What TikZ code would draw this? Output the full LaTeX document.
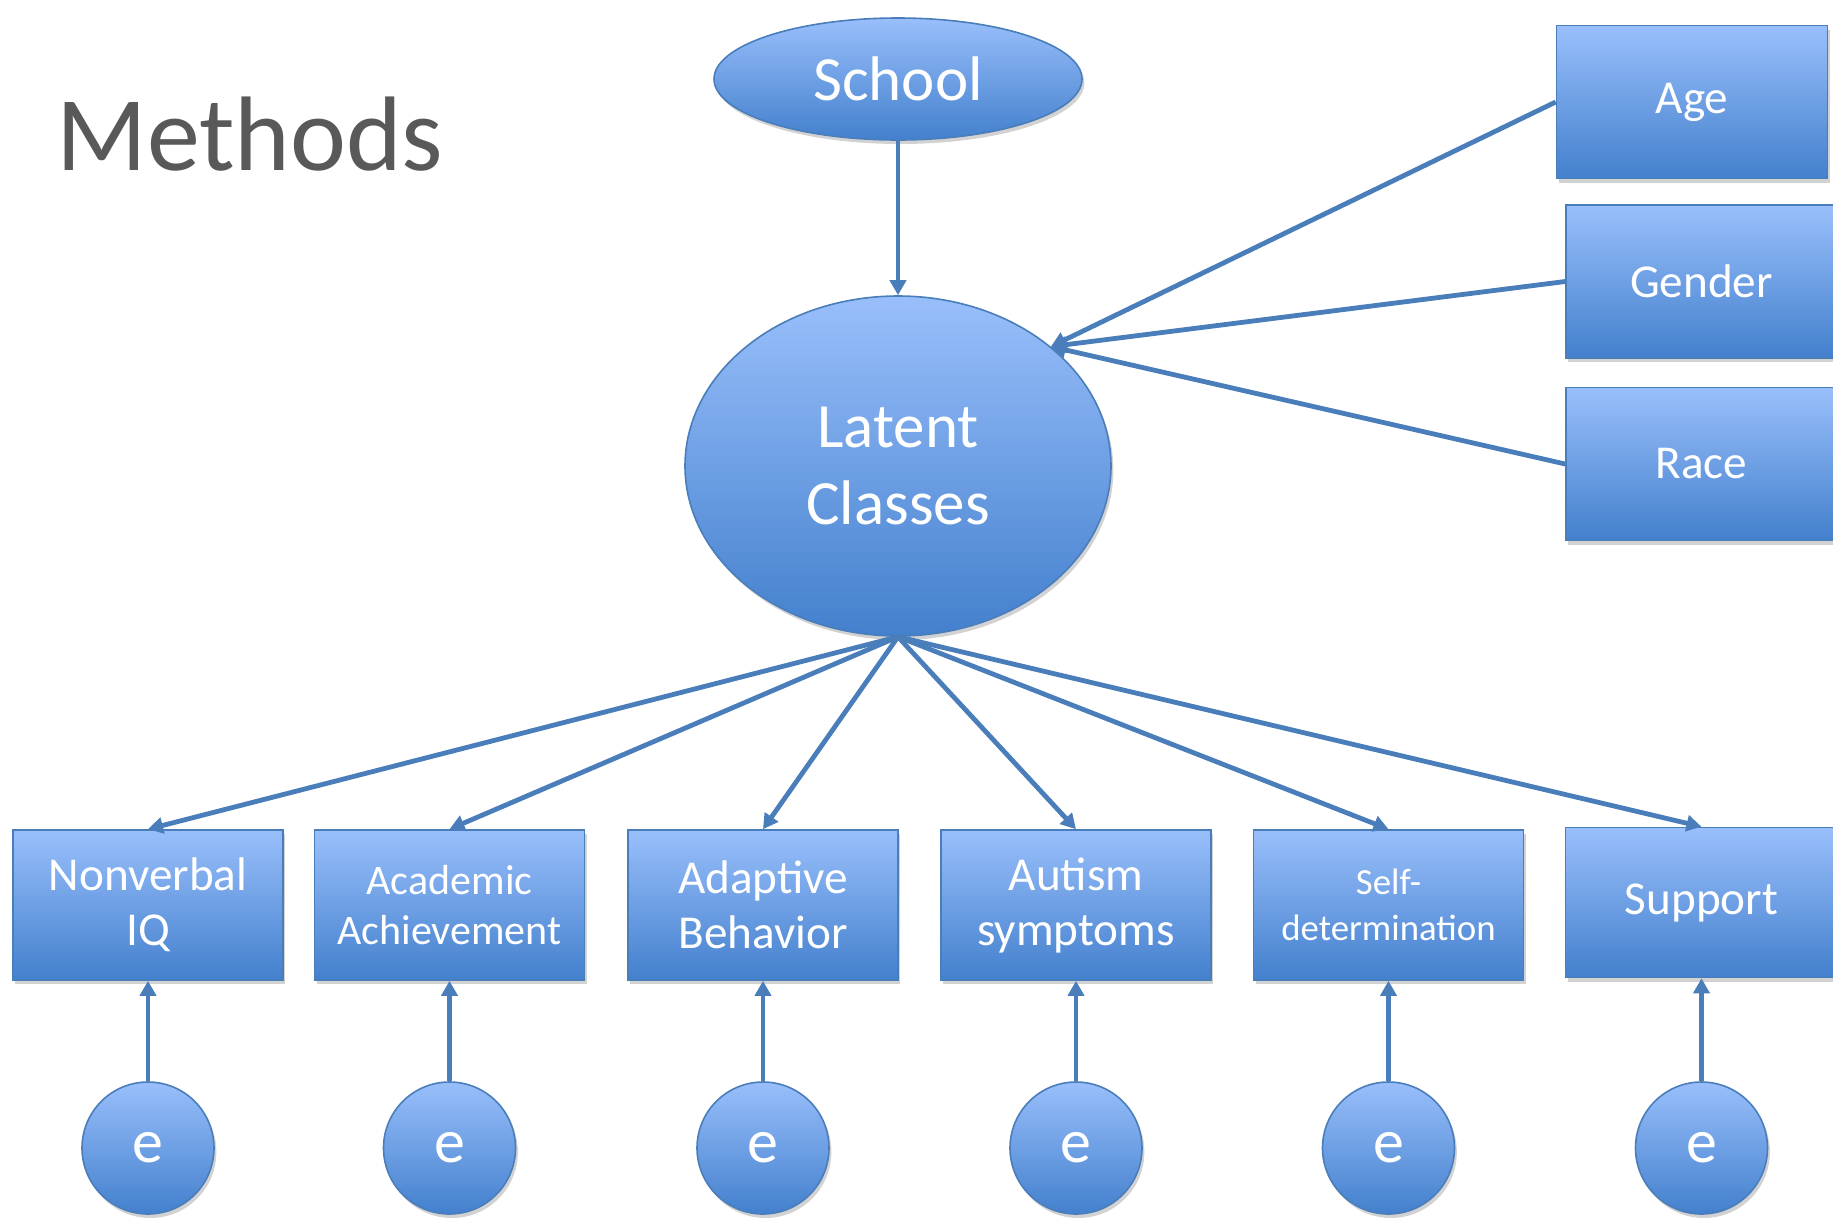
\documentclass[tikz,border=0pt]{standalone}
\usepackage{fontspec}
\setmainfont{Carlito}
\usetikzlibrary{arrows.meta,shapes.geometric,shadows}
\definecolor{topc}{HTML}{99BFFB}
\definecolor{botc}{HTML}{4380CD}
\definecolor{edgec}{HTML}{4A7EBB}
\definecolor{arrc}{HTML}{4A7EBB}
\definecolor{titlec}{HTML}{595959}
\begin{document}
\begin{tikzpicture}[x=0.5pt,y=-0.5pt,
  fillshape/.style={top color=topc,bottom color=botc,draw=edgec,line width=0.8pt,
    text=white,align=center,inner sep=0pt,
    drop shadow={opacity=0.25,shadow xshift=1.2pt,shadow yshift=-2pt,fill=black!70}},
  boxnode/.style={fillshape,rectangle,minimum width=135pt,minimum height=75pt,
    font=\fontsize{23.6}{27.5}\selectfont},
  sidebox/.style={fillshape,rectangle,minimum width=135.5pt,minimum height=76.5pt,
    font=\fontsize{23.6}{27.5}\selectfont},
  errnode/.style={fillshape,circle,minimum size=66pt,font=\fontsize{31}{36}\selectfont},
  conn/.style={draw=arrc,line width=2.4pt,-{Triangle[length=7.5pt,width=8pt]}}
]
\useasboundingbox (0,0) rectangle (1833,1217);
\clip (0,0) rectangle (1833,1217);

\node[anchor=base west,text=titlec,font=\fontsize{53}{60}\selectfont,inner sep=0pt] (title) at (56,170) {Methods};

\node[fillshape,ellipse,minimum width=184pt,minimum height=61pt,font=\fontsize{31.5}{37}\selectfont] (school) at (898,79) {School};
\node[fillshape,ellipse,minimum width=213pt,minimum height=170pt,font=\fontsize{31.5}{38.5}\selectfont] (latent) at (898,466) {Latent\\Classes};

\node[sidebox] (age) at (1692,102) {\raisebox{-2pt}{Age}};
\node[sidebox] (gender) at (1701.5,281.5) {Gender};
\node[sidebox] (race) at (1701.5,464) {Race};

\node[boxnode] (b1) at (148,905) {Nonverbal\\IQ};
\node[boxnode,font=\fontsize{21}{25}\selectfont] (b2) at (449.5,905) {Academic\\Achievement};
\node[boxnode] (b3) at (763,905) {Adaptive\\Behavior};
\node[boxnode] (b4) at (1076,905) {Autism\\symptoms};
\node[boxnode,font=\fontsize{18.4}{22.8}\selectfont] (b5) at (1388.5,905) {Self-\\determination};
\node[boxnode,minimum width=136pt] (b6) at (1701.5,902.5) {\raisebox{-2pt}{Support}};

\node[errnode] (e1) at (148,1148) {e};
\node[errnode] (e2) at (449.5,1148) {e};
\node[errnode] (e3) at (763,1148) {e};
\node[errnode] (e4) at (1076,1148) {e};
\node[errnode] (e5) at (1388.5,1148) {e};
\node[errnode] (e6) at (1701.5,1148) {e};

\coordinate (lt) at (latent.38);

\draw[conn] (school.south) -- (latent.north);
\draw[conn] (age.west) -- (lt);
\draw[conn] (gender.west) -- (lt);
\draw[conn] (race.west) -- (lt);

\foreach \i in {1,...,6}{
  \draw[conn] (latent.south) -- (b\i.north);
  \draw[conn] (e\i.north) -- (b\i.south);
}
\end{tikzpicture}
\end{document}
